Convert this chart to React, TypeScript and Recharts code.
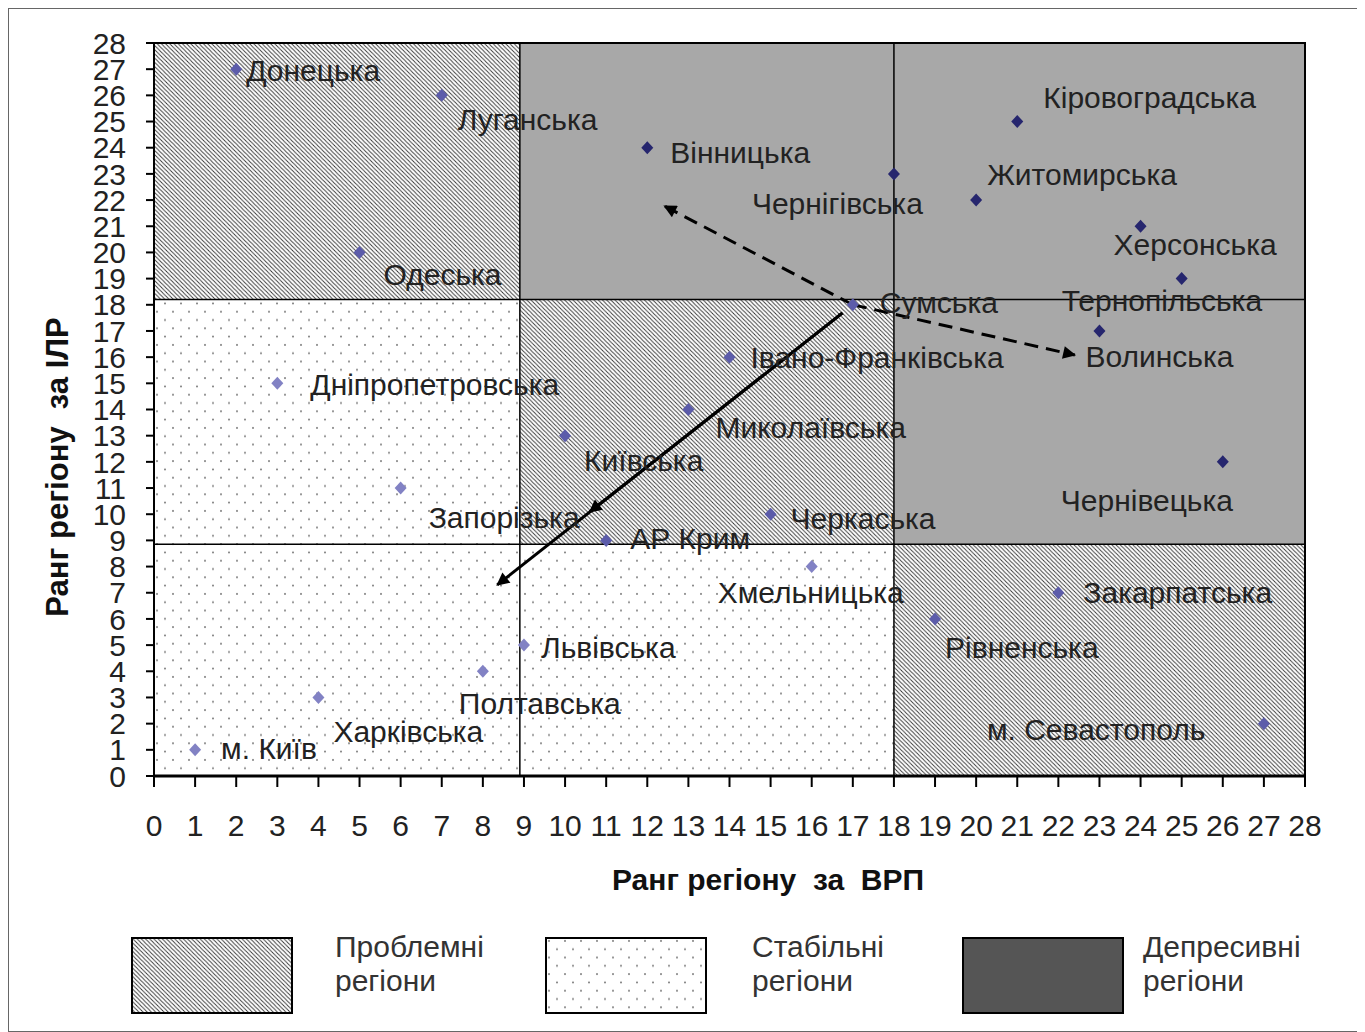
import React from 'react';
import {
  ScatterChart,
  Scatter,
  XAxis,
  YAxis,
  ReferenceArea,
  ReferenceLine,
} from 'recharts';

// regions: rank by GRP (x) and by HDI (y)
const REGIONS = [
  'Донецька', 'Луганська', 'Вінницька', 'Кіровоградська', 'Чернігівська',
  'Житомирська', 'Херсонська', 'Одеська', 'Тернопільська', 'Сумська',
  'Волинська', 'Івано-Франківська', 'Дніпропетровська', 'Миколаївська',
  'Київська', 'Чернівецька', 'Запорізька', 'Черкаська', 'АР Крим',
  'Хмельницька', 'Закарпатська', 'Рівненська', 'Львівська', 'Полтавська',
  'Харківська', 'м. Київ', 'м. Севастополь',
];
const GRP_RANK = [2, 7, 12, 21, 18, 20, 24, 5, 25, 17, 23, 14, 3, 13, 10, 26, 6, 15, 11, 16, 22, 19, 9, 8, 4, 1, 27];
const HDI_RANK = [27, 26, 24, 25, 23, 22, 21, 20, 19, 18, 17, 16, 15, 14, 13, 12, 11, 10, 9, 8, 7, 6, 5, 4, 3, 1, 2];

const AXIS_TICKS = [0, 1, 2, 3, 4, 5, 6, 7, 8, 9, 10, 11, 12, 13, 14, 15, 16, 17, 18, 19, 20, 21, 22, 23, 24, 25, 26, 27, 28];

// zones of the matrix
const ZONE_KIND = ['problem', 'depressive', 'stable', 'problem', 'depressive', 'stable', 'problem'];
const ZONE_X = [[0, 8.9], [8.9, 28], [0, 8.9], [8.9, 18], [18, 28], [0, 18], [18, 28]];
const ZONE_Y = [[18.2, 28], [18.2, 28], [8.85, 18.2], [8.85, 18.2], [8.85, 18.2], [0, 8.85], [0, 8.85]];
const BOUNDARY_X = [8.9, 18];
const BOUNDARY_Y = [8.85, 18.2];

// trend arrows
const ARROW_FROM = [[17, 18], [17, 18], [16.75, 17.69], [16.75, 17.69]];
const ARROW_TO = [[12.42, 21.77], [22.4, 16.08], [10.6, 10.09], [8.35, 7.3]];
const ARROW_DASHED = [true, true, false, false];

// label placement relative to the marker (px)
const LABEL_DX = [10, 16, 23, 26, -142, 11, -27, 24, -120, 27, -14, 21, 33, 27, 19, -162, 28, 20, 24, -94, 25, 10, 17, -24, 15, 26, -277];
const LABEL_DY = [1, 24, 5, -24, 30, -26, 18, 22, 22, -2, 26, 0, 1, 18, 25, 39, 29, 4, -2, 26, 0, 29, 2, 32, 34, -1, 6];

const FONT = '"Liberation Sans", Arial, sans-serif';
const ZONE_FILL: Record<string, string> = {
  problem: 'url(#hatch)',
  stable: 'url(#dots)',
  depressive: '#a8a8a8',
};
const MARKER_FILL: Record<string, string> = {
  problem: '#5c5caa',
  stable: '#8282c4',
  depressive: '#26266e',
};

const zoneOf = (x: number, y: number) => {
  for (let i = 0; i < ZONE_KIND.length; i++) {
    if (x >= ZONE_X[i][0] && x <= ZONE_X[i][1] && y >= ZONE_Y[i][0] && y <= ZONE_Y[i][1]) return ZONE_KIND[i];
  }
  return 'stable';
};

const points = REGIONS.map((name, i) => ({ name, x: GRP_RANK[i], y: HDI_RANK[i], idx: i }));

const PointShape = (props: any) => {
  const { cx, cy, payload } = props;
  const i = payload.idx;
  const fill = MARKER_FILL[zoneOf(payload.x, payload.y)];
  return (
    <g>
      <path d={`M${cx},${cy - 6.5} L${cx + 6},${cy} L${cx},${cy + 6.5} L${cx - 6},${cy} Z`} fill={fill} />
      <text
        x={cx + LABEL_DX[i]}
        y={cy + LABEL_DY[i]}
        dominantBaseline="central"
        fontSize={30}
        fontFamily={FONT}
        fill="#222"
      >
        {payload.name}
      </text>
    </g>
  );
};

const arrowShape = (dashed: boolean) => (p: any) => (
  <line
    x1={p.x1}
    y1={p.y1}
    x2={p.x2}
    y2={p.y2}
    stroke="#000"
    strokeWidth={3}
    strokeDasharray={dashed ? '14 8' : undefined}
    markerEnd="url(#arrowHead)"
  />
);

const LegendBox = ({ fill, left }: { fill: string; left: number }) => (
  <svg width={162} height={77} style={{ position: 'absolute', left, top: 928 }}>
    <rect x={1} y={1} width={160} height={75} fill={fill} stroke="#000" strokeWidth={2} />
  </svg>
);

const legendText: React.CSSProperties = {
  position: 'absolute',
  top: 921,
  fontSize: 30,
  lineHeight: '34px',
  color: '#333',
  fontFamily: FONT,
};

export default function App() {
  return (
    <div
      style={{
        position: 'relative',
        width: 1350,
        height: 1024,
        border: '1px solid #666',
        boxSizing: 'border-box',
        background: '#fff',
        fontFamily: FONT,
      }}
    >
      <svg width={0} height={0} style={{ position: 'absolute' }}>
        <defs>
          <pattern id="hatch" patternUnits="userSpaceOnUse" width={4.2} height={4.2}>
            <rect width={4.2} height={4.2} fill="#fff" />
            <path d="M-1,-1 L5.2,5.2 M-1,3.2 L1,5.2 M3.2,-1 L5.2,1" stroke="#333" strokeWidth={0.9} />
          </pattern>
          <pattern id="dots" patternUnits="userSpaceOnUse" width={16} height={16.6}>
            <rect width={16} height={16.6} fill="#fff" />
            <circle cx={4} cy={4} r={1} fill="#777" />
            <circle cx={12} cy={12.3} r={1} fill="#777" />
          </pattern>
          <marker
            id="arrowHead"
            viewBox="0 0 10 10"
            refX={9}
            refY={5}
            markerWidth={18}
            markerHeight={13}
            markerUnits="userSpaceOnUse"
            orient="auto"
          >
            <path d="M0,0 L10,5 L0,10 z" fill="#000" />
          </marker>
        </defs>
      </svg>

      <div style={{ position: 'absolute', left: 0, top: 0 }}>
        <ScatterChart width={1340} height={900} margin={{ top: 34, right: 44, left: 45, bottom: 73 }}>
          <XAxis
            type="number"
            dataKey="x"
            domain={[0, 28]}
            ticks={AXIS_TICKS}
            interval={0}
            height={60}
            tickSize={11}
            tickMargin={28}
            axisLine={{ stroke: '#000', strokeWidth: 3 }}
            tickLine={{ stroke: '#000', strokeWidth: 2 }}
            tick={{ fill: '#222', fontSize: 30, fontFamily: FONT }}
          />
          <YAxis
            type="number"
            dataKey="y"
            domain={[0, 28]}
            ticks={AXIS_TICKS}
            interval={0}
            width={100}
            tickSize={8}
            tickMargin={20}
            axisLine={{ stroke: '#000', strokeWidth: 1.5 }}
            tickLine={{ stroke: '#000', strokeWidth: 2 }}
            tick={{ fill: '#222', fontSize: 30, fontFamily: '"Liberation Sans Narrow", "Liberation Sans", Arial' }}
          />
          {ZONE_KIND.map((kind, i) => (
            <ReferenceArea
              key={`zone-${i}`}
              x1={ZONE_X[i][0]}
              x2={ZONE_X[i][1]}
              y1={ZONE_Y[i][0]}
              y2={ZONE_Y[i][1]}
              fill={ZONE_FILL[kind]}
              fillOpacity={1}
              stroke="none"
            />
          ))}
          {BOUNDARY_X.map((v) => (
            <ReferenceLine key={`bx-${v}`} x={v} stroke="#000" strokeWidth={1.5} />
          ))}
          {BOUNDARY_Y.map((v) => (
            <ReferenceLine key={`by-${v}`} y={v} stroke="#000" strokeWidth={1.5} />
          ))}
          <ReferenceArea x1={0} x2={28} y1={0} y2={28} fill="none" stroke="#000" strokeWidth={2} />
          <Scatter data={points} shape={PointShape} isAnimationActive={false} />
          {ARROW_FROM.map((from, i) => (
            <ReferenceLine
              key={`arrow-${i}`}
              segment={[
                { x: from[0], y: from[1] },
                { x: ARROW_TO[i][0], y: ARROW_TO[i][1] },
              ]}
              shape={arrowShape(ARROW_DASHED[i])}
            />
          ))}
        </ScatterChart>
      </div>

      <div
        style={{
          position: 'absolute',
          left: 759,
          top: 871,
          transform: 'translate(-50%, -50%)',
          whiteSpace: 'pre',
          fontWeight: 'bold',
          fontSize: 30,
          color: '#111',
        }}
      >
        {'Ранг регіону  за  ВРП'}
      </div>
      <div
        style={{
          position: 'absolute',
          left: 49,
          top: 458,
          transform: 'translate(-50%, -50%) rotate(-90deg)',
          whiteSpace: 'pre',
          fontWeight: 'bold',
          fontSize: 31,
          color: '#111',
        }}
      >
        {'Ранг регіону  за ІЛР'}
      </div>

      <LegendBox fill="url(#hatch)" left={122} />
      <div style={{ ...legendText, left: 326 }}>Проблемні<br />регіони</div>
      <LegendBox fill="url(#dots)" left={536} />
      <div style={{ ...legendText, left: 743 }}>Стабільні<br />регіони</div>
      <LegendBox fill="#555" left={953} />
      <div style={{ ...legendText, left: 1134 }}>Депресивні<br />регіони</div>
    </div>
  );
}
